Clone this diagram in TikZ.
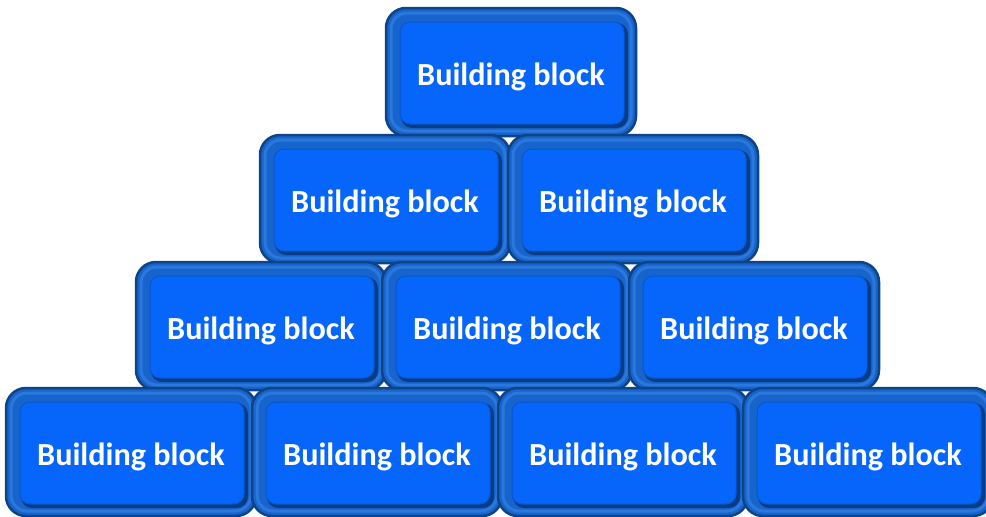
\documentclass[tikz,border=0pt]{standalone}
\usepackage{fontspec}
\newfontfamily\bbfont{Carlito}
\definecolor{bbdark}{HTML}{0E4386}
\definecolor{bbbevel}{HTML}{1765CC}
\definecolor{bbhi}{HTML}{2A78DC}
\definecolor{bbshadow}{HTML}{083C86}
\definecolor{bbface}{HTML}{0666FC}
\definecolor{bbedge}{HTML}{0A55C8}
\tikzset{
  block/.style={draw=bbdark, line width=2.5pt, fill=bbbevel, rounded corners=20pt,
    minimum width=250pt, minimum height=128pt, inner sep=0pt, text=white,
    text height=28pt, text depth=2pt,
    font=\bbfont\bfseries\fontsize{32.2}{34}\selectfont,
    path picture={
      \draw[bbhi, line width=3pt, rounded corners=16pt]
        ([xshift=5pt,yshift=-5pt]path picture bounding box.north west) rectangle
        ([xshift=-5pt,yshift=5pt]path picture bounding box.south east);
      \fill[bbshadow, rounded corners=11pt]
        ([xshift=15pt,yshift=-15pt]path picture bounding box.north west) rectangle
        ([xshift=-8pt,yshift=8pt]path picture bounding box.south east);
      \draw[bbedge, fill=bbface, line width=1pt, rounded corners=10pt]
        ([xshift=14pt,yshift=-14pt]path picture bounding box.north west) rectangle
        ([xshift=-12pt,yshift=12pt]path picture bounding box.south east);
    }}
}
\begin{document}
\begin{tikzpicture}[x=1pt,y=-1pt]
\useasboundingbox (0,0) rectangle (986,517);
\clip (0,0) rectangle (986,517);
\node[block] (r1a) at (511,72) {Building block};
\node[block] (r2a) at (385,199) {Building block};
\node[block] (r2b) at (633,199) {Building block};
\node[block] (r3a) at (261,326) {Building block};
\node[block] (r3b) at (507,326) {Building block};
\node[block] (r3c) at (754,326) {Building block};
\node[block] (r4a) at (131,452) {Building block};
\node[block] (r4b) at (377,452) {Building block};
\node[block] (r4c) at (623,452) {Building block};
\node[block] (r4d) at (868,452) {Building block};
\end{tikzpicture}
\end{document}
